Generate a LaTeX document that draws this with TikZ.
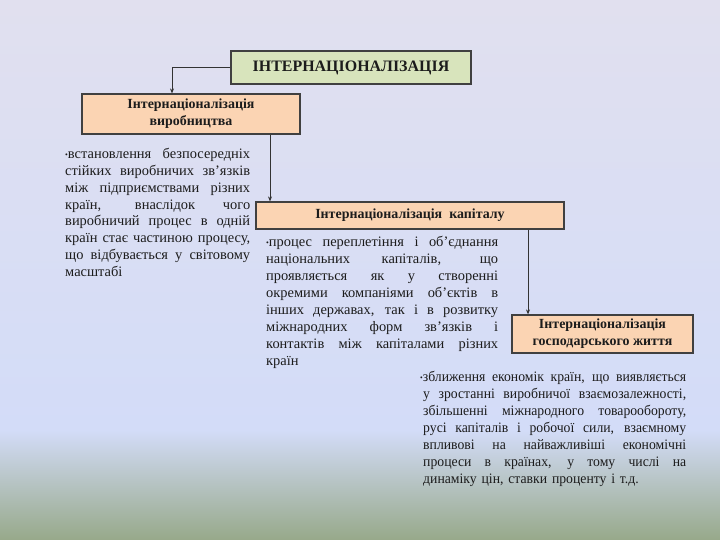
\documentclass[tikz,border=0pt]{standalone}
\usepackage{fontspec}
\setmainfont{Liberation Serif}
\newfontfamily\narrowserif{Liberation Serif}[FakeStretch=0.95]
\usetikzlibrary{arrows.meta}
\tikzset{>={Stealth[length=5bp,width=4bp]}}
\definecolor{bgtop}{HTML}{E1E0EF}
\definecolor{bgmid}{HTML}{D3DCF8}
\definecolor{bggreen}{HTML}{97A98A}
\definecolor{boxgreen}{HTML}{D8E4BC}
\definecolor{boxpeach}{HTML}{FBD4B3}
\definecolor{ink}{HTML}{1C1C1C}
\newlength{\notew}
\tikzset{
  box/.style={draw=black!75, line width=1.2bp, text=ink, align=center, inner sep=0pt,
    font=\bfseries\fontsize{14}{17}\selectfont},
  peach/.style={box, fill=boxpeach},
  notes/.style={anchor=north west, inner sep=0pt, align=left, text=ink, text width=#1,
    execute at begin node={\setlength{\notew}{#1}},
    font=\fontsize{14.5}{17}\selectfont},
  link/.style={->, draw=black!80, line width=0.9bp}
}
\newcommand{\fl}[1]{\makebox[\notew][s]{\spaceskip=0pt\xspaceskip=0pt\relax #1}}
\newcommand{\bul}{{\fontsize{8}{8}\selectfont\raisebox{1bp}{•}}}
\newcommand{\topstrut}{\rule{0pt}{12bp}}

\begin{document}
\begin{tikzpicture}[x=1bp,y=-1bp]
    % background
    \shade[top color=bgtop, bottom color=bgmid] (0,0) rectangle (720,430);
    \shade[top color=bgmid, bottom color=bggreen] (0,430) rectangle (720,540);
    \useasboundingbox (0,0) rectangle (720,540);
    % boxes
    \node[box, fill=boxgreen, minimum width=240bp, minimum height=33bp,
      font=\bfseries\fontsize{16}{17}\selectfont] (intl) at (351,67.5) {ІНТЕРНАЦІОНАЛІЗАЦІЯ};
    \node[peach, minimum width=218bp, minimum height=40bp] (prod) at (191,114) {Інтернаціоналізація\\виробництва};
    \node[peach, minimum width=308bp, minimum height=27bp] (cap) at (410,215.5) {Інтернаціоналізація\ \ капіталу};
    \node[peach, minimum width=181bp, minimum height=38bp] (econ) at (602.5,334) {Інтернаціоналізація\\господарського життя};
    % arrows
    \draw[link] (intl.west) -| ([xshift=-19bp]prod.north);
    \draw[link] ([xshift=79bp]prod.south) -- ([xshift=79bp]prod.south |- cap.north);
    \draw[link] ([xshift=118bp]cap.south) -- ([xshift=118bp]cap.south |- econ.north);
    % notes
    \node[notes=185bp] (prodnote) at (65,146) {%
      \fl{\topstrut\bul встановлення безпосередніх}\\
      \fl{стійких виробничих зв’язків}\\
      \fl{між підприємствами різних}\\
      \fl{країн, внаслідок чого}\\
      \fl{виробничий процес в одній}\\
      \fl{країн стає частиною процесу,}\\
      \fl{що відбувається у світовому}\\
      масштабі};
    \node[notes=232bp] (capnote) at (266,234.7) {%
      \fl{\topstrut\bul процес переплетіння і об’єднання}\\
      \fl{національних капіталів, що}\\
      \fl{проявляється як у створенні}\\
      \fl{окремими компаніями об’єктів в}\\
      \fl{інших державах, так і в розвитку}\\
      \fl{міжнародних форм зв’язків і}\\
      \fl{контактів між капіталами різних}\\
      країн};
    \node[notes=266bp, font=\narrowserif\fontsize{14.5}{17}\selectfont] (econnote) at (420,369.7) {%
      \fl{\topstrut\bul зближення економік країн, що виявляється}\\
      \fl{\hspace{3bp}у зростанні виробничої взаємозалежності,}\\
      \fl{\hspace{3bp}збільшенні міжнародного товарообороту,}\\
      \fl{\hspace{3bp}русі капіталів і робочої сили, взаємному}\\
      \fl{\hspace{3bp}впливові на найважливіші економічні}\\
      \fl{\hspace{3bp}процеси в країнах, у тому числі на}\\
      \hspace{3bp}динаміку цін, ставки проценту і т.д.};
\end{tikzpicture}
\end{document}
